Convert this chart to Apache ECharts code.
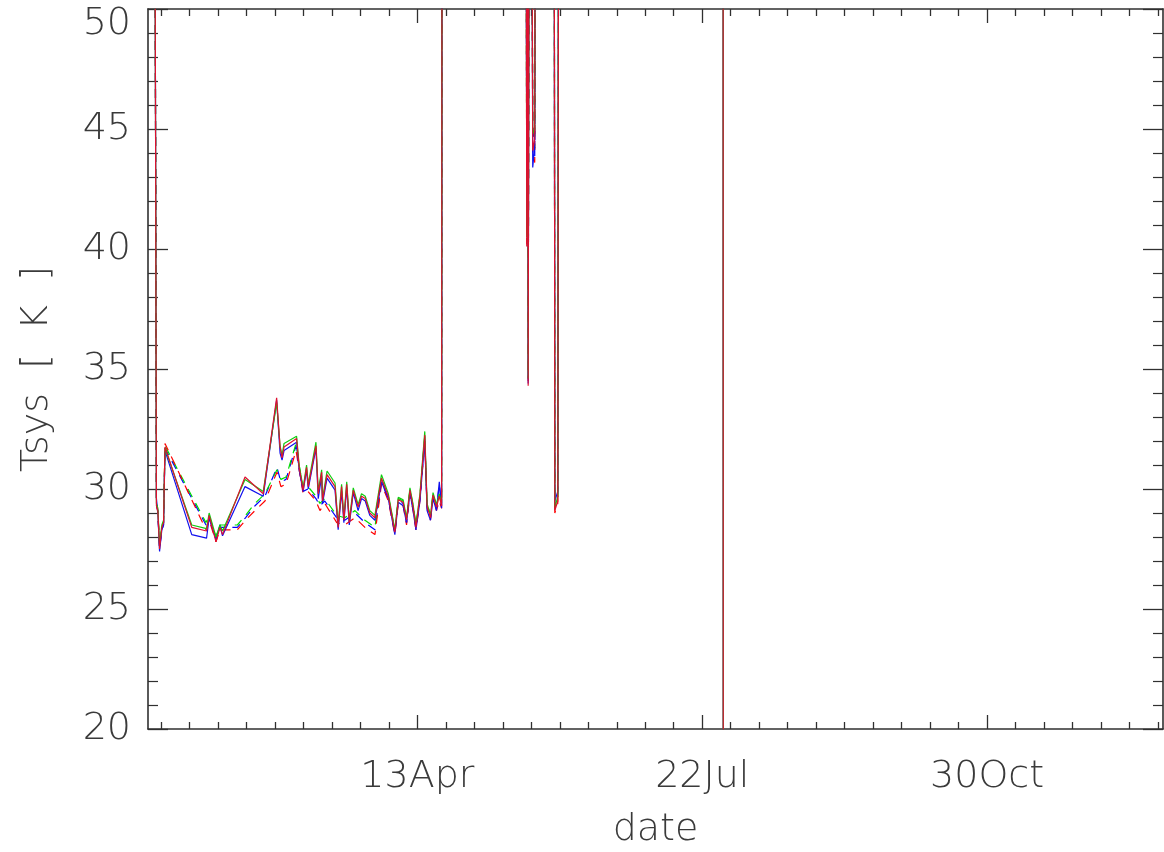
<!DOCTYPE html>
<html>
<head>
<meta charset="utf-8">
<script src="https://cdn.jsdelivr.net/npm/echarts@6/dist/echarts.min.js"></script>
<style>
html,body{margin:0;padding:0;background:#fff;}
#chart{width:1164px;height:852px;}
</style>
</head>
<body>
<div id="chart"></div>
<script>
// x values are day-of-year
const xMajorTicks = [103, 203, 303];
const xMajorLabels = ['13Apr', '22Jul', '30Oct'];
const xMinorTicks = [13,23,33,43,53,63,73,83,93,113,123,133,143,153,163,173,183,193,213,223,233,243,253,263,273,283,293,313,323,333,343,353,363];

const solidDates = [10.4, 11.4, 11.9, 12.5, 13.3, 13.9, 14.4, 23.8, 29.0, 29.9, 32.3, 33.7, 34.6, 42.5, 48.9, 53.6, 54.8, 55.5, 56.2, 60.6, 61.5, 62.9, 64.1, 64.7, 67.4, 68.2, 69.4, 69.7, 71.3, 74.1, 75.2, 76.4, 77.2, 78.2, 79.1, 80.5, 82.2, 83.4, 84.7, 86.3, 88.1, 90.4, 92.8, 95.1, 96.3, 98.0, 99.2, 100.4, 101.5, 102.5, 103.9, 105.6, 106.4, 107.6, 108.5, 109.7, 110.7, 111.5, 111.8, 140.9, 141.4, 141.65, 141.9, 142.6, 143.5, 144.2, 144.7, 150.9, 151.25, 152.3, 152.8, 210.3, 210.4];

const solidBlue = [80, 29.6, 29.0, 27.4, 28.3, 28.5, 31.6, 28.1, 27.95, 28.8, 27.9, 28.5, 28.05, 30.1, 29.7, 33.7, 31.5, 31.2, 31.6, 31.95, 30.8, 29.9, 30.8, 30.0, 31.7, 29.6, 30.55, 29.4, 30.45, 29.95, 28.3, 29.9, 28.6, 30.05, 28.5, 29.85, 29.1, 29.6, 29.5, 28.9, 28.7, 30.3, 29.6, 28.1, 29.45, 29.3, 28.6, 29.85, 29.1, 28.3, 29.5, 32.0, 29.1, 28.7, 29.6, 29.1, 30.3, 29.2, 80, 80, 41.5, 80, 34.4, 80, 43.4, 44.3, 80, 80, 29.5, 29.9, 80, 80, 0];

const solidGreen = [80, 29.4, 29.2, 27.7, 28.5, 28.7, 31.7, 28.5, 28.35, 29.0, 28.0, 28.5, 28.25, 30.4, 29.9, 33.6, 31.8, 31.4, 31.9, 32.2, 31.0, 30.05, 31.0, 30.2, 31.95, 29.9, 30.8, 29.6, 30.75, 30.25, 28.5, 30.2, 28.8, 30.3, 28.7, 30.05, 29.35, 29.8, 29.7, 29.1, 28.9, 30.6, 29.8, 28.3, 29.65, 29.55, 28.8, 30.05, 29.35, 28.5, 29.8, 32.4, 29.4, 28.9, 29.85, 29.35, 29.8, 29.4, 80, 80, 40.5, 80, 34.6, 80, 44.8, 45.0, 80, 80, 29.2, 29.7, 80, 80, 0];

const solidRed = [80, 29.3, 29.1, 27.5, 28.4, 28.6, 31.75, 28.4, 28.25, 28.9, 27.8, 28.4, 28.1, 30.5, 29.8, 33.8, 31.75, 31.3, 31.75, 32.1, 30.9, 29.95, 30.9, 30.1, 31.8, 29.8, 30.7, 29.5, 30.6, 30.1, 28.4, 30.1, 28.7, 30.2, 28.6, 29.95, 29.25, 29.7, 29.6, 29.0, 28.8, 30.45, 29.7, 28.2, 29.55, 29.45, 28.7, 29.95, 29.25, 28.4, 29.7, 32.25, 29.3, 28.8, 29.75, 29.25, 29.7, 29.3, 80, 80, 40.1, 80, 34.3, 80, 44.1, 44.6, 80, 80, 29.1, 29.5, 80, 80, 0];

const dashDates = [10.4, 11.4, 11.9, 12.5, 13.3, 13.9, 14.4, 28.8, 29.9, 32.3, 33.7, 39.8, 42.65, 46.0, 49.5, 53.7, 55.1, 56.9, 60.4, 61.5, 62.9, 64.6, 67.4, 68.8, 70.5, 74.7, 77.5, 81.1, 84.6, 88.1, 90.4, 92.8, 95.1, 96.3, 98.0, 99.2, 100.4, 101.5, 102.5, 103.9, 105.6, 106.4, 107.6, 108.5, 109.7, 110.7, 111.5, 111.8, 140.9, 141.4, 141.65, 141.9, 142.6, 143.5, 144.2, 144.7, 150.9, 151.25, 152.3, 152.8];

const dashBlue = [80, 29.5, 29.0, 27.5, 28.3, 28.5, 31.7, 28.5, 28.8, 27.9, 28.4, 28.4, 28.8, 29.3, 29.7, 30.9, 30.3, 30.4, 31.8, 30.9, 29.9, 30.0, 29.6, 29.3, 29.5, 28.8, 28.7, 29.0, 28.6, 28.3, 30.3, 29.6, 28.2, 29.5, 29.4, 28.6, 29.9, 29.2, 28.4, 29.6, 32.1, 29.3, 28.8, 29.7, 29.2, 30.2, 29.3, 80, 80, 41.0, 80, 34.6, 80, 45.2, 43.8, 80, 80, 29.3, 29.8, 80];

const dashGreen = [80, 29.4, 29.1, 27.6, 28.4, 28.6, 31.8, 28.6, 28.9, 28.0, 28.5, 28.5, 28.9, 29.4, 29.8, 30.8, 30.4, 30.5, 31.9, 31.0, 30.0, 30.1, 29.7, 29.4, 29.6, 28.9, 28.8, 29.1, 28.7, 28.4, 30.4, 29.7, 28.3, 29.6, 29.5, 28.7, 30.0, 29.3, 28.5, 29.7, 32.2, 29.4, 28.9, 29.8, 29.3, 29.7, 29.4, 80, 80, 40.6, 80, 34.8, 80, 44.5, 44.2, 80, 80, 29.2, 29.6, 80];

const dashRed = [80, 29.4, 29.0, 27.6, 28.4, 28.6, 31.9, 28.3, 28.7, 27.8, 28.3, 28.3, 28.7, 29.1, 29.5, 30.7, 30.1, 30.2, 31.6, 30.8, 29.8, 29.9, 29.5, 29.1, 29.4, 28.6, 28.5, 28.8, 28.4, 28.1, 30.2, 29.5, 28.1, 29.4, 29.3, 28.5, 29.8, 29.1, 28.3, 29.5, 32.0, 29.2, 28.7, 29.6, 29.1, 29.5, 29.2, 80, 80, 40.2, 80, 34.5, 80, 44.0, 43.6, 80, 80, 29.0, 29.4, 80];

const xMin = 8.44, xMax = 364.75;
const yMin = 20, yMax = 50, yStep = 5;

const FONT = 'DejaVu Sans';
const TXT = '#3a3a3a';
const AX = '#303030';

function pairs(xs, ys) {
  const n = Math.min(xs.length, ys.length);
  const out = [];
  for (let i = 0; i < n; i++) out.push([xs[i], ys[i]]);
  return out;
}

function lineSeries(name, xs, ys, color, dashed) {
  return {
    name: name,
    type: 'line',
    xAxisIndex: 0,
    yAxisIndex: 0,
    data: pairs(xs, ys),
    symbol: 'none',
    clip: true,
    silent: true,
    lineStyle: { color: color, width: 1.2, type: dashed ? [9, 7] : 'solid' },
    z: dashed ? 2 : 3
  };
}

function xAx(position, ticks, len, labels, showLine) {
  return {
    type: 'value',
    position: position,
    min: xMin,
    max: xMax,
    axisLine: { show: showLine, onZero: false, lineStyle: { color: AX, width: 1.6 } },
    axisTick: { show: true, inside: true, length: len, customValues: ticks, lineStyle: { color: AX, width: 1.3 } },
    axisLabel: labels ? {
      show: true,
      customValues: xMajorTicks,
      margin: 29,
      fontFamily: FONT, fontWeight: 200, fontSize: 38, color: TXT,
      formatter: function (v) {
        const i = xMajorTicks.indexOf(Math.round(v));
        return i >= 0 ? xMajorLabels[i] : '';
      }
    } : { show: false },
    splitLine: { show: false },
    name: labels ? 'date' : '',
    nameLocation: 'middle',
    nameGap: 82,
    nameTextStyle: { fontFamily: FONT, fontWeight: 200, fontSize: 38, color: TXT }
  };
}

const chart = echarts.init(document.getElementById('chart'), null, { renderer: 'canvas' });
chart.setOption({
  animation: false,
  backgroundColor: '#ffffff',
  grid: { left: 148, right: 1, top: 9, bottom: 123, containLabel: false, outerBoundsMode: 'none' },
  xAxis: [
    xAx('bottom', xMajorTicks, 14, true, true),
    xAx('bottom', xMinorTicks, 7, false, false),
    xAx('top', xMajorTicks, 14, false, true),
    xAx('top', xMinorTicks, 7, false, false)
  ],
  yAxis: [
    {
      type: 'value', position: 'left', min: yMin, max: yMax, interval: yStep,
      axisLine: { show: true, onZero: false, lineStyle: { color: AX, width: 1.6 } },
      axisTick: { show: true, inside: true, length: 20, lineStyle: { color: AX, width: 1.3 } },
      minorTick: { show: true, splitNumber: 5, length: 10, lineStyle: { color: AX, width: 1.2 } },
      splitLine: { show: false },
      axisLabel: {
        margin: 17, fontFamily: FONT, fontWeight: 200, fontSize: 38, color: TXT,
        formatter: function (v) { return v === yMax ? '{top|' + v + '}' : String(v); },
        rich: { top: { fontFamily: FONT, fontWeight: 200, fontSize: 38, color: TXT, padding: [30, 0, 0, 0] } }
      },
      name: 'Tsys  [  K  ]',
      nameLocation: 'middle',
      nameRotate: 90,
      nameGap: 92,
      nameTextStyle: { fontFamily: FONT, fontWeight: 200, fontSize: 38, color: TXT }
    },
    {
      type: 'value', position: 'right', min: yMin, max: yMax, interval: yStep,
      axisLine: { show: true, onZero: false, lineStyle: { color: AX, width: 1.6 } },
      axisTick: { show: true, inside: true, length: 20, lineStyle: { color: AX, width: 1.3 } },
      minorTick: { show: true, splitNumber: 5, length: 10, lineStyle: { color: AX, width: 1.2 } },
      splitLine: { show: false },
      axisLabel: { show: false }
    }
  ],
  series: [
    lineSeries('dash blue', dashDates, dashBlue, '#0000ff', true),
    lineSeries('dash green', dashDates, dashGreen, '#00dd00', true),
    lineSeries('dash red', dashDates, dashRed, '#ff0000', true),
    lineSeries('blue', solidDates, solidBlue, '#1010ee', false),
    lineSeries('green', solidDates, solidGreen, '#10cc10', false),
    lineSeries('red', solidDates, solidRed, '#dd1030', false)
  ]
});
</script>
</body>
</html>
